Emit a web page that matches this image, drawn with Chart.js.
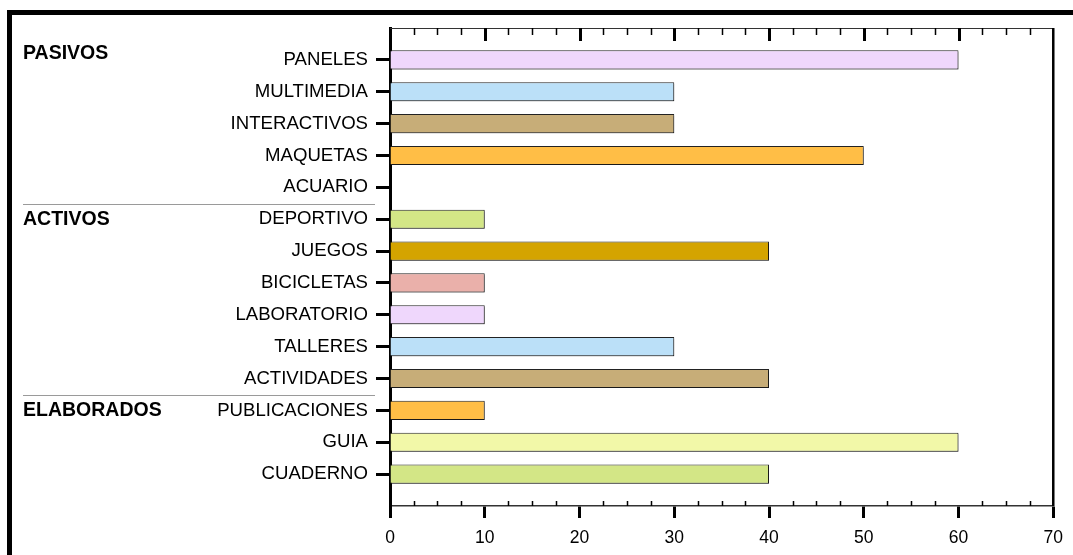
<!DOCTYPE html>
<html>
<head>
<meta charset="utf-8">
<script src="https://cdn.jsdelivr.net/npm/chart.js@4.4.1/dist/chart.umd.min.js"></script>
<style>
body { margin: 0; background: #fff; }
canvas { display: block; }
</style>
</head>
<body>
<canvas id="myChart" width="1073" height="555"></canvas>
<script>
var categories = ["PANELES", "MULTIMEDIA", "INTERACTIVOS", "MAQUETAS", "ACUARIO", "DEPORTIVO", "JUEGOS",
    "BICICLETAS", "LABORATORIO", "TALLERES", "ACTIVIDADES", "PUBLICACIONES", "GUIA", "CUADERNO"];
var values = [60, 30, 30, 50, 0, 10, 40, 10, 10, 30, 40, 10, 60, 40];
var barColors = ["#EFD7FC", "#BBE0F8", "#C7AD78", "#FFBE46", "#FFFFFF", "#D3E686", "#D4A400",
    "#EAB0AA", "#EFD7FC", "#BBE0F8", "#C7AD78", "#FFBE46", "#F2F8A8", "#D3E686"];
var xTicks = [0, 10, 20, 30, 40, 50, 60, 70];
var groupNames = ["PASIVOS", "ACTIVOS", "ELABORADOS"];
var groupStarts = ["PANELES", "DEPORTIVO", "PUBLICACIONES"];

var FONT = "'Liberation Sans', Arial, sans-serif";

// one empty row above and below so the bars sit a full step from the frame
var labels = [""].concat(categories, [""]);
var data = [null].concat(values, [null]);
var colors = ["#fff"].concat(barColors, ["#fff"]);

function rowTick(c) {
    var i = c.index;
    if (i === undefined && c.tick) i = labels.indexOf(c.tick.label);
    return (i === 0 || i === labels.length - 1 || (c.tick && c.tick.label === "")) ? "rgba(0,0,0,0)" : "#000";
}

/*
 * extra drawing: outer frame, top/right axis lines, minor ticks, groups
 */
var decor = {
    id: 'decor',
    beforeDraw: function(chart) {
        var ctx = chart.ctx;
        ctx.save();
        ctx.fillStyle = "#000";
        ctx.fillRect(7, 10, chart.width - 7, 5);
        ctx.fillRect(7, 10, 5, chart.height - 10);
        ctx.restore();
    },
    beforeDatasetsDraw: function(chart) {
        var ctx = chart.ctx;
        ctx.save();
        ctx.shadowColor = "rgba(0,0,0,0.25)";
        ctx.shadowOffsetX = 1.5;
        ctx.shadowOffsetY = 1.5;
        ctx.shadowBlur = 0;
    },
    afterDatasetsDraw: function(chart) {
        chart.ctx.restore();
    },
    afterDraw: function(chart) {
        var ctx = chart.ctx;
        var a = chart.chartArea;
        var x = chart.scales.x;
        var y = chart.scales.y;
        ctx.save();

        // top and right axis lines
        ctx.strokeStyle = "#333";
        ctx.lineWidth = 1;
        ctx.beginPath();
        ctx.moveTo(a.left, a.top + 0.5);
        ctx.lineTo(a.right, a.top + 0.5);
        ctx.stroke();
        ctx.strokeStyle = "#000";
        ctx.lineWidth = 2.5;
        ctx.beginPath();
        ctx.moveTo(a.right, a.top);
        ctx.lineTo(a.right, a.bottom);
        ctx.stroke();

        // minor ticks every quarter step, inward on top and bottom
        ctx.strokeStyle = "#000";
        for (var i = 0; i < xTicks.length - 1; i++) {
            var step = (xTicks[i + 1] - xTicks[i]) / 4;
            for (var k = 1; k < 4; k++) {
                var px = Math.round(x.getPixelForValue(xTicks[i] + k * step)) + 0.5;
                ctx.lineWidth = 1.5;
                ctx.beginPath();
                ctx.moveTo(px, a.bottom);
                ctx.lineTo(px, a.bottom - 5);
                ctx.moveTo(px, a.top);
                ctx.lineTo(px, a.top + 7);
                ctx.stroke();
            }
            if (i > 0) {
                var mx = Math.round(x.getPixelForValue(xTicks[i])) + 0.5;
                ctx.lineWidth = 3;
                ctx.beginPath();
                ctx.moveTo(mx, a.top);
                ctx.lineTo(mx, a.top + 13);
                ctx.stroke();
            }
        }

        // group separators and names
        ctx.font = "bold 19.5px " + FONT;
        ctx.fillStyle = "#000";
        ctx.textBaseline = "middle";
        ctx.textAlign = "left";
        for (var g = 0; g < groupNames.length; g++) {
            var idx = labels.indexOf(groupStarts[g]);
            var py = y.getPixelForValue(idx);
            var shift = g === 0 ? -6 : 0;
            ctx.fillText(groupNames[g], 23, py + shift);
            if (g > 0) {
                var sy = Math.round((py + y.getPixelForValue(idx - 1)) / 2) + 1.5;
                ctx.strokeStyle = "#9a9a9a";
                ctx.lineWidth = 1;
                ctx.beginPath();
                ctx.moveTo(23, sy);
                ctx.lineTo(375, sy);
                ctx.stroke();
            }
        }
        ctx.restore();
    }
};

var chart = new Chart(document.getElementById("myChart").getContext('2d'), {
    type: 'bar',
    data: {
        labels: labels,
        datasets: [{
            data: data,
            backgroundColor: colors,
            borderColor: "#222",
            borderWidth: 1,
            barPercentage: 0.6,
            categoryPercentage: 1
        }]
    },
    options: {
        indexAxis: 'y',
        responsive: false,
        animation: false,
        devicePixelRatio: 1,
        layout: { padding: { top: 28, right: 18, left: 0, bottom: 0 } },
        plugins: {
            legend: { display: false },
            tooltip: { enabled: false }
        },
        scales: {
            x: {
                type: 'linear',
                position: 'bottom',
                min: 0,
                max: 70,
                afterBuildTicks: function(scale) {
                    scale.ticks = xTicks.map(function(v) { return { value: v }; });
                },
                afterFit: function(scale) { scale.height = 49; },
                ticks: {
                    color: "#000",
                    padding: 10,
                    maxRotation: 0,
                    font: { family: FONT, size: 17.5 }
                },
                grid: {
                    drawOnChartArea: false,
                    drawTicks: true,
                    tickLength: 12,
                    tickWidth: 3,
                    color: "#000"
                },
                border: { display: true, color: "#333", width: 1.5 }
            },
            y: {
                type: 'category',
                offset: false,
                afterFit: function(scale) { scale.width = 390; },
                ticks: {
                    color: "#000",
                    autoSkip: false,
                    padding: 8,
                    font: { family: FONT, size: 18.6 }
                },
                grid: {
                    offset: false,
                    drawOnChartArea: false,
                    drawTicks: true,
                    tickLength: 14,
                    tickWidth: 3,
                    color: rowTick,
                    tickColor: rowTick
                },
                border: { display: true, color: "#000", width: 3 }
            }
        }
    },
    plugins: [decor]
});
</script>
</body>
</html>
